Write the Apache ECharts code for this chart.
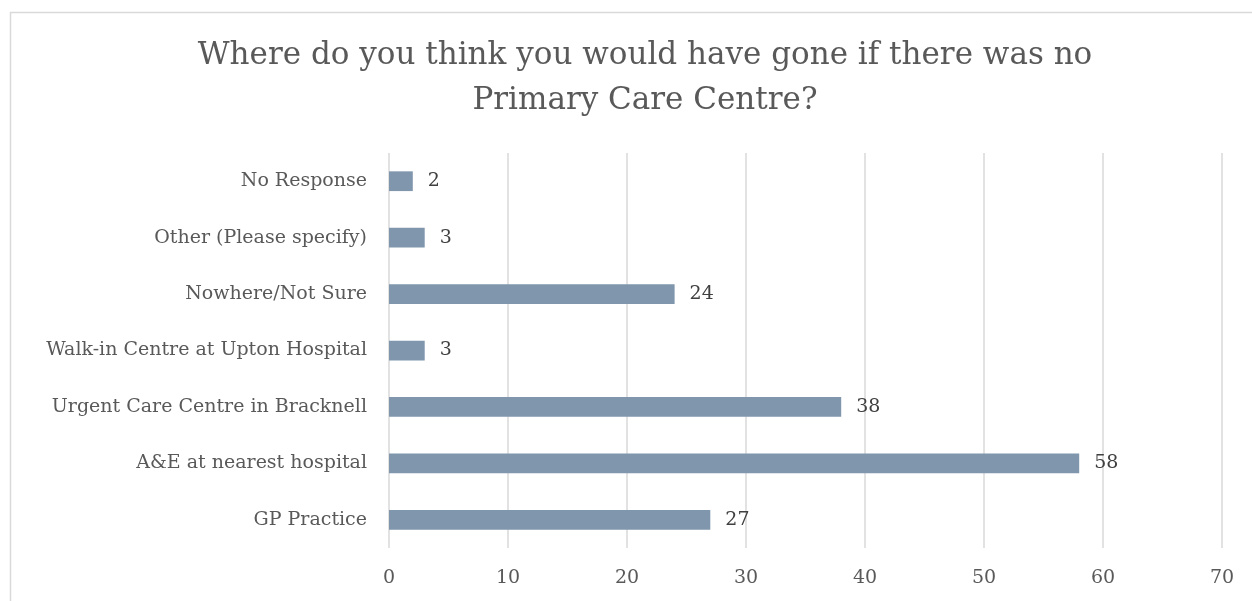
<!DOCTYPE html>
<html><head><meta charset="utf-8">
<script src="https://cdn.jsdelivr.net/npm/echarts@6/dist/echarts.min.js"></script>
<style>html,body{margin:0;padding:0;background:#fff}#c{width:1252px;height:601px}</style>
</head><body><div id="c"></div>
<script>
const categories = ["GP Practice","A&E at nearest hospital","Urgent Care Centre in Bracknell","Walk-in Centre at Upton Hospital","Nowhere/Not Sure","Other (Please specify)","No Response"];
const values = [27,58,38,3,24,3,2];
const titleText = "Where do you think you would have gone if there was no\nPrimary Care Centre?";
const FONT = "DejaVu Serif";
const chart = echarts.init(document.getElementById('c'));
chart.setOption({
  animation:false,
  backgroundColor:'#fff',
  graphic:[{type:'rect',shape:{x:10.5,y:12.5,width:1260,height:620},style:{fill:'none',stroke:'#d9d9d9',lineWidth:1.5},silent:true}],
  title:{text:titleText,left:640,top:28,textAlign:'center',
    textStyle:{fontFamily:FONT,fontSize:31,fontWeight:'normal',color:'#595959',lineHeight:45}},
  grid:{left:389,right:30,top:153,bottom:53,containLabel:false},
  xAxis:{type:'value',min:0,max:70,interval:10,
    axisLine:{show:false},axisTick:{show:false},
    axisLabel:{fontFamily:FONT,fontSize:19,color:'#595959',margin:21},
    splitLine:{lineStyle:{color:'#d9d9d9',width:1.5}}},
  yAxis:{type:'category',data:categories,
    axisLine:{show:false},axisTick:{show:false},
    axisLabel:{fontFamily:FONT,fontSize:19,color:'#595959',margin:22}},
  series:[{type:'bar',data:values,barWidth:'35%',
    itemStyle:{color:'#7f96ad'},
    label:{show:true,position:'right',distance:15,fontFamily:FONT,fontSize:19,color:'#404040'}}]
});
</script></body></html>
